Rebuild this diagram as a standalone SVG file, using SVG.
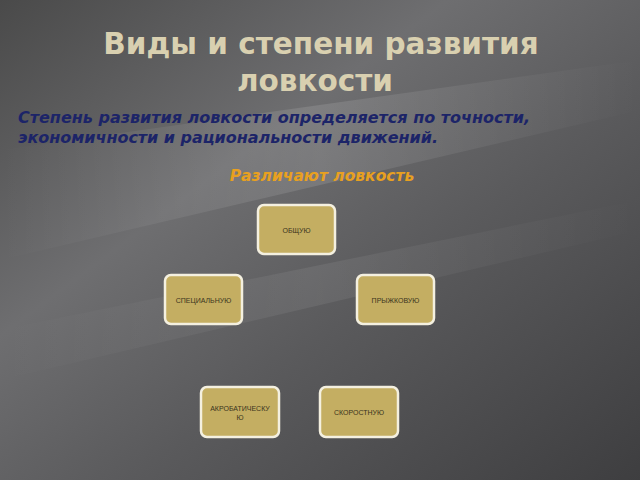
<svg xmlns="http://www.w3.org/2000/svg" width="640" height="480" viewBox="0 0 640 480">
<style>
.n rect{fill:#c4ae62;stroke:#f4f0e0;stroke-width:2.5}
.n text{font-family:"Liberation Sans",Arial,sans-serif;font-size:7px;fill:#3a3420;text-anchor:middle}
.t{font-family:"DejaVu Sans",sans-serif;font-weight:bold}
</style>
<defs>
<linearGradient id="bg" x1="0" y1="0" x2="1" y2="1">
<stop offset="0" stop-color="#4a4a4a"/><stop offset="0.35" stop-color="#6e6e70"/><stop offset="0.6" stop-color="#5a5a5c"/><stop offset="1" stop-color="#3e3e40"/>
</linearGradient>
<linearGradient id="st" x1="0" y1="0" x2="1" y2="0">
<stop offset="0" stop-color="#fff" stop-opacity="0"/><stop offset="0.5" stop-color="#fff" stop-opacity="0.12"/><stop offset="1" stop-color="#fff" stop-opacity="0"/>
</linearGradient>
</defs>
<rect width="640" height="480" fill="url(#bg)"/>
<polygon points="0,150 640,60 640,110 0,260" fill="url(#st)"/>
<polygon points="0,330 640,200 640,230 0,380" fill="url(#st)" opacity="0.6"/>
<g id="title" class="t" fill="#d9d0b0" font-size="29.5" text-anchor="middle">
<text x="321" y="54">Виды и степени развития</text>
<text x="315" y="91">ловкости</text>
</g>
<g class="t" font-style="italic" fill="#1c2468" font-size="16">
<text x="18" y="123" textLength="512">Степень развития ловкости определяется по точности,</text>
<text x="18" y="143" textLength="420">экономичности и рациональности движений.</text>
</g>
<text class="t" x="322" y="181" font-style="italic" fill="#e8a020" font-size="15.5" text-anchor="middle">Различают ловкость</text>
<g id="connectors"></g>
<g id="n1" class="n"><rect x="258" y="205" width="77" height="49" rx="6"/><text x="296.5" y="233">ОБЩУЮ</text></g>
<g id="n2" class="n"><rect x="165" y="275" width="77" height="49" rx="6"/><text x="203.5" y="303">СПЕЦИАЛЬНУЮ</text></g>
<g id="n3" class="n"><rect x="357" y="275" width="77" height="49" rx="6"/><text x="395.5" y="303">ПРЫЖКОВУЮ</text></g>
<g id="n4" class="n"><rect x="201" y="387" width="78" height="50" rx="6"/><text x="240" y="411">АКРОБАТИЧЕСКУ</text><text x="240" y="420">Ю</text></g>
<g id="n5" class="n"><rect x="320" y="387" width="78" height="50" rx="6"/><text x="359" y="415">СКОРОСТНУЮ</text></g>
</svg>
